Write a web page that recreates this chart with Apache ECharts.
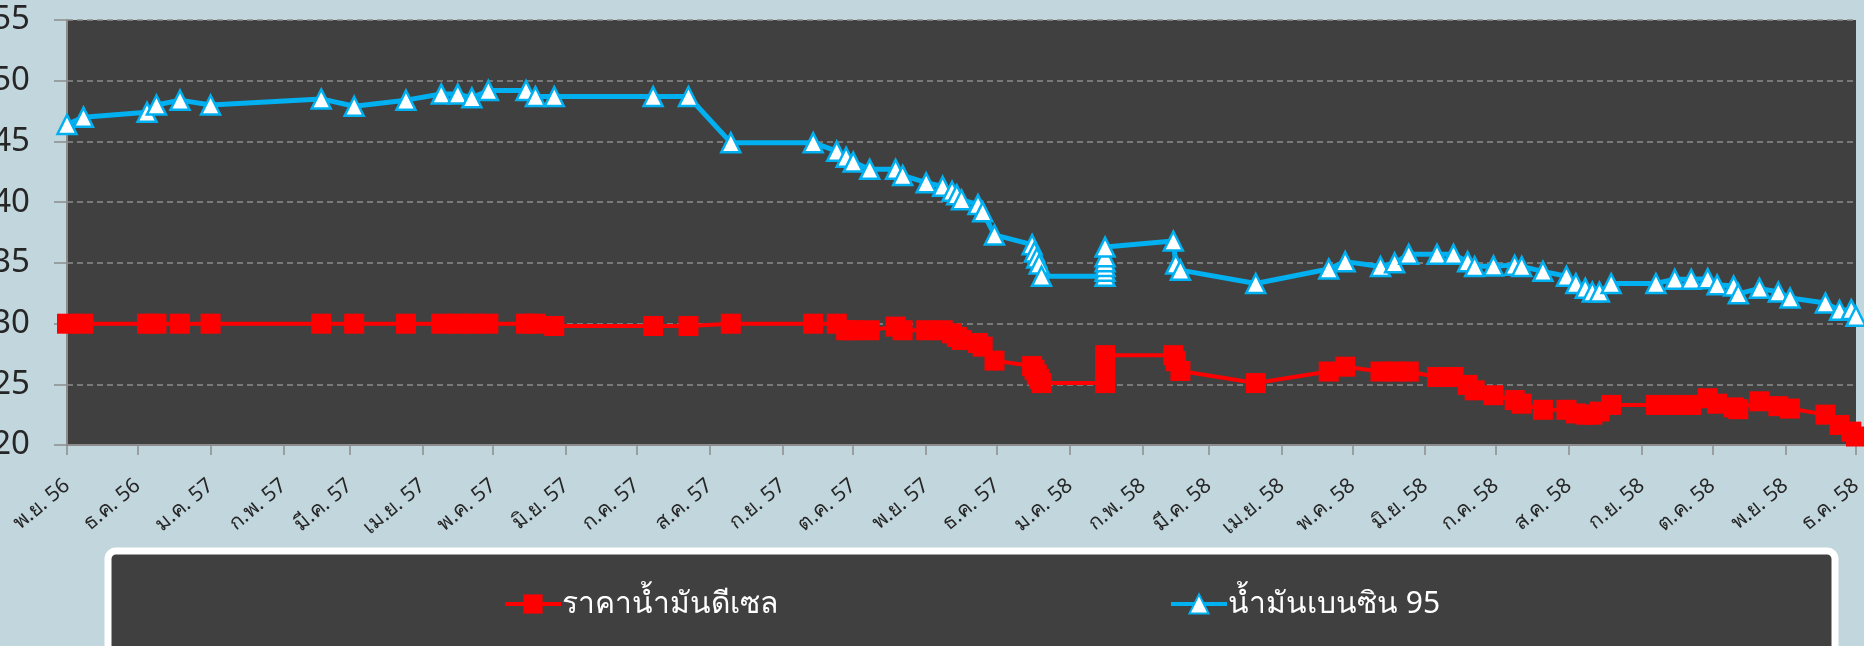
<!DOCTYPE html>
<html>
<head>
<meta charset="utf-8">
<script src="https://cdn.jsdelivr.net/npm/echarts@6/dist/echarts.min.js"></script>
<style>
html,body{margin:0;padding:0;background:#C2D6DD;}
#chart{width:1864px;height:646px;}
</style>
</head>
<body>
<div id="chart"></div>
<script>
const seriesNames = ['ราคาน้ำมันดีเซล', 'น้ำมันเบนซิน 95'];

const tickDates = ['2013-11-01','2013-12-01','2014-01-01','2014-02-01','2014-03-01','2014-04-01','2014-05-01','2014-06-01','2014-07-01','2014-08-01','2014-09-01','2014-10-01','2014-11-01','2014-12-01','2015-01-01','2015-02-01','2015-03-01','2015-04-01','2015-05-01','2015-06-01','2015-07-01','2015-08-01','2015-09-01','2015-10-01','2015-11-01','2015-12-01'];
const tickLabels = ['พ.ย. 56','ธ.ค. 56','ม.ค. 57','ก.พ. 57','มี.ค. 57','เม.ย. 57','พ.ค. 57','มิ.ย. 57','ก.ค. 57','ส.ค. 57','ก.ย. 57','ต.ค. 57','พ.ย. 57','ธ.ค. 57','ม.ค. 58','ก.พ. 58','มี.ค. 58','เม.ย. 58','พ.ค. 58','มิ.ย. 58','ก.ค. 58','ส.ค. 58','ก.ย. 58','ต.ค. 58','พ.ย. 58','ธ.ค. 58'];

const dates = ['2013-11-01','2013-11-08','2013-12-05','2013-12-09','2013-12-19','2014-01-01','2014-02-17','2014-03-03','2014-03-25','2014-04-09',
'2014-04-16','2014-04-22','2014-04-29','2014-05-15','2014-05-19','2014-05-27','2014-07-08','2014-07-23','2014-08-10','2014-09-14',
'2014-09-24','2014-09-28','2014-10-01','2014-10-08','2014-10-19','2014-10-22','2014-11-01','2014-11-08','2014-11-12','2014-11-14',
'2014-11-16','2014-11-23','2014-11-25','2014-11-30','2014-12-16','2014-12-17','2014-12-18','2014-12-19','2014-12-20','2015-01-16',
'2015-01-16','2015-01-16','2015-01-16','2015-01-16','2015-01-16','2015-02-14','2015-02-15','2015-02-17','2015-03-21','2015-04-21',
'2015-04-28','2015-05-13','2015-05-19','2015-05-25','2015-06-06','2015-06-13','2015-06-19','2015-06-22','2015-06-30','2015-07-09',
'2015-07-12','2015-07-21','2015-07-31','2015-08-04','2015-08-08','2015-08-11','2015-08-14','2015-08-19','2015-09-07','2015-09-15',
'2015-09-22','2015-09-29','2015-10-03','2015-10-10','2015-10-12','2015-10-21','2015-10-29','2015-11-03','2015-11-18','2015-11-24',
'2015-11-29','2015-12-01'];

const diesel = [29.99,29.99,29.99,29.99,29.99,29.99,29.99,29.99,29.99,29.99,
29.99,29.99,29.99,29.99,29.99,29.8,29.8,29.8,29.99,29.99,
29.99,29.45,29.45,29.45,29.75,29.45,29.45,29.45,29.2,28.9,
28.65,28.4,28.1,26.95,26.5,26.2,25.8,25.45,25.1,25.1,
25.5,25.9,26.4,26.9,27.4,27.4,26.9,26.1,25.1,26.05,
26.45,26.05,26.05,26.05,25.6,25.6,24.95,24.5,24.1,23.7,
23.4,22.9,22.9,22.6,22.5,22.5,22.75,23.3,23.3,23.3,
23.3,23.85,23.4,23.1,22.95,23.6,23.2,23.0,22.5,21.65,
21.1,20.7];

const benzine95 = [46.4,47.0,47.4,48.0,48.4,48.0,48.5,47.9,48.4,48.9,
48.9,48.6,49.2,49.2,48.7,48.7,48.7,48.7,44.9,44.9,
44.2,43.7,43.3,42.7,42.7,42.2,41.6,41.3,40.9,40.6,
40.2,39.8,39.2,37.3,36.5,35.9,35.4,34.9,33.9,33.9,
34.3,34.7,35.1,35.5,36.3,36.8,34.9,34.4,33.3,34.5,
35.1,34.7,35.0,35.7,35.7,35.7,35.1,34.7,34.75,34.8,
34.7,34.3,33.9,33.3,32.9,32.6,32.6,33.3,33.3,33.65,
33.65,33.7,33.2,33.1,32.45,32.9,32.6,32.1,31.7,31.1,
31.15,30.6];

function toTime(s) {
  const p = s.split('-').map(Number);
  return new Date(p[0], p[1] - 1, p[2]).getTime();
}
const tickTimes = tickDates.map(toTime);

const chart = echarts.init(document.getElementById('chart'), null, {renderer: 'canvas'});
const font = '"Noto Sans", "Open Sans", sans-serif';

const option = {
  animation: false,
  backgroundColor: '#C2D6DD',
  textStyle: {fontFamily: font},
  graphic: [{
    type: 'rect',
    z: 0,
    shape: {x: 108, y: 551, width: 1727, height: 200, r: 8},
    style: {fill: '#404040', stroke: '#FFFFFF', lineWidth: 7}
  }],
  grid: {
    left: 67, right: 8, top: 20, bottom: 201,
    outerBoundsMode: 'none',
    containLabel: false,
    show: true, backgroundColor: '#404040', borderWidth: 0
  },
  legend: [
    {
      data: [seriesNames[0]], left: 498, top: 584, itemWidth: 56, itemHeight: 24, itemGap: 4,
      lineStyle: {width: 4},
      textStyle: {color: '#FFFFFF', fontSize: 30, fontFamily: font, padding: [0, 0, 0, -4]}
    },
    {
      data: [seriesNames[1]], left: 1164, top: 584, itemWidth: 56, itemHeight: 24, itemGap: 4,
      lineStyle: {width: 4},
      textStyle: {color: '#FFFFFF', fontSize: 30, fontFamily: font, padding: [0, 0, 0, -4]}
    }
  ],
  xAxis: {
    type: 'value',
    min: tickTimes[0],
    max: tickTimes[tickTimes.length - 1],
    axisLine: {show: true, lineStyle: {color: '#8C8C8C', width: 2}},
    axisTick: {show: true, length: 10, customValues: tickTimes, lineStyle: {color: '#8C8C8C', width: 1.5}},
    splitLine: {show: false},
    axisLabel: {
      customValues: tickTimes,
      rotate: 40,
      margin: 38,
      fontSize: 21,
      color: '#262626',
      fontFamily: font,
      formatter: function (v) {
        let best = 0, bd = Infinity;
        for (let i = 0; i < tickTimes.length; i++) {
          const d = Math.abs(tickTimes[i] - v);
          if (d < bd) { bd = d; best = i; }
        }
        return tickLabels[best];
      }
    }
  },
  yAxis: {
    type: 'value',
    min: 20, max: 55, interval: 5,
    axisLine: {show: true, lineStyle: {color: '#8C8C8C', width: 2}},
    axisTick: {show: true, length: 13, lineStyle: {color: '#8C8C8C', width: 1.5}},
    splitLine: {show: true, lineStyle: {color: '#8C8C8C', type: [6, 4], width: 1.5}},
    axisLabel: {margin: 37, fontSize: 33, color: '#262626', fontFamily: font}
  },
  series: [
    {
      name: seriesNames[0],
      type: 'line',
      clip: false,
      data: dates.map((d, i) => [toTime(d), diesel[i]]),
      symbol: 'rect',
      symbolSize: 20,
      color: '#FF0000',
      lineStyle: {color: '#FF0000', width: 4},
      itemStyle: {color: '#FF0000'}
    },
    {
      name: seriesNames[1],
      type: 'line',
      clip: false,
      data: dates.map((d, i) => [toTime(d), benzine95[i]]),
      symbol: 'triangle',
      symbolSize: 19,
      color: '#00B0F0',
      lineStyle: {color: '#00B0F0', width: 5},
      itemStyle: {color: '#FFFFFF', borderColor: '#00B0F0', borderWidth: 2.5}
    }
  ]
};
chart.setOption(option);
</script>
</body>
</html>
